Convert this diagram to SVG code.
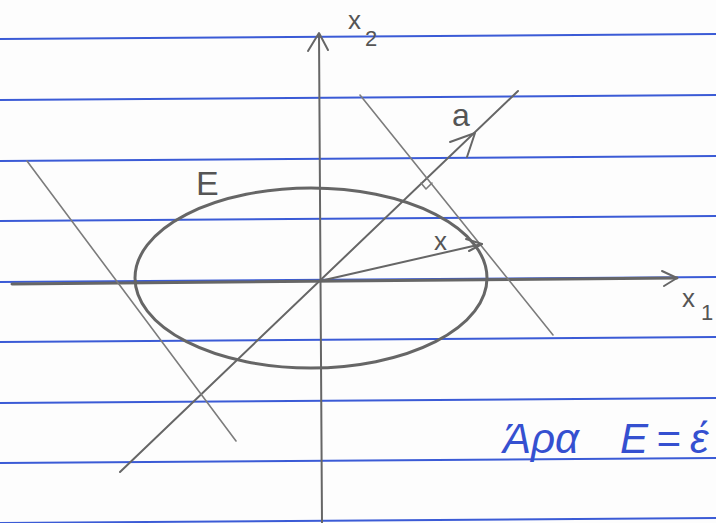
<svg xmlns="http://www.w3.org/2000/svg" width="716" height="523" viewBox="0 0 716 523">
<style>
.rule{stroke:#3b5bd6;stroke-width:2;fill:none}
.pen{stroke:#666;fill:none;stroke-linecap:round;stroke-linejoin:round}
.thick{stroke-width:3}
.med{stroke-width:2}
.thin{stroke:#7c7c7c;stroke-width:1.6}
.lbl{font-family:"Liberation Sans","DejaVu Sans",sans-serif;fill:#555}
.blue{font-family:"Liberation Sans","DejaVu Sans",sans-serif;fill:#3550d0;font-style:italic}
</style>
<rect width="716" height="523" fill="#fdfdfd"/>
<g id="paper-rules">
<line class="rule" x1="0" y1="39" x2="716" y2="34"/>
<line class="rule" x1="0" y1="100" x2="716" y2="95"/>
<line class="rule" x1="0" y1="161" x2="716" y2="156"/>
<line class="rule" x1="0" y1="221" x2="716" y2="216"/>
<line class="rule" x1="0" y1="282" x2="716" y2="277"/>
<line class="rule" x1="0" y1="342" x2="716" y2="337"/>
<line class="rule" x1="0" y1="403" x2="716" y2="398"/>
<line class="rule" x1="0" y1="463" x2="716" y2="458"/>
<line class="rule" x1="0" y1="523" x2="716" y2="518"/>
</g>
<g id="connectors">
<g id="axis-x1">
<line class="pen thick" x1="12" y1="284" x2="677" y2="278"/>
<polyline class="pen med" points="662,271 677,278 664,286"/>
</g>
<g id="axis-x2">
<line class="pen med" x1="322" y1="523" x2="319" y2="34"/>
<polyline class="pen med" points="308,51 319,33 328,50"/>
</g>
<g id="line-a">
<line class="pen med" x1="120" y1="472" x2="518" y2="91"/>
<polyline class="pen med" points="450,142 475,133 467,157"/>
</g>
<g id="tangent-right">
<line class="pen thin" x1="360" y1="95" x2="553" y2="335"/>
<polyline class="pen thin" points="421,183 426,189 432,183"/>
</g>
<g id="tangent-left">
<line class="pen thin" x1="27" y1="161" x2="236" y2="441"/>
</g>
<g id="vector-x">
<line class="pen med" x1="320" y1="281" x2="482" y2="244"/>
<polyline class="pen med" points="466,239 482,244 469,251"/>
</g>
</g>
<g id="ellipse-E">
<ellipse class="pen thick" cx="311" cy="278" rx="176" ry="90"/>
</g>
<g id="labels">
<g id="label-x2"><text class="lbl" x="348" y="29" font-size="26">x</text><text class="lbl" x="365" y="46" font-size="22">2</text></g>
<g id="label-x1"><text class="lbl" x="682" y="307" font-size="26">x</text><text class="lbl" x="701" y="320" font-size="22">1</text></g>
<g id="label-E"><text class="lbl" x="196" y="195" font-size="34">E</text></g>
<g id="label-a"><text class="lbl" x="452" y="126" font-size="32">a</text></g>
<g id="label-x"><text class="lbl" x="434" y="250" font-size="26">x</text></g>
</g>
<g id="note">
<text class="blue" font-size="42" y="453"><tspan x="503">Άρα</tspan><tspan x="620">E</tspan><tspan x="656">=</tspan><tspan x="690">έ</tspan></text>
</g>
</svg>
